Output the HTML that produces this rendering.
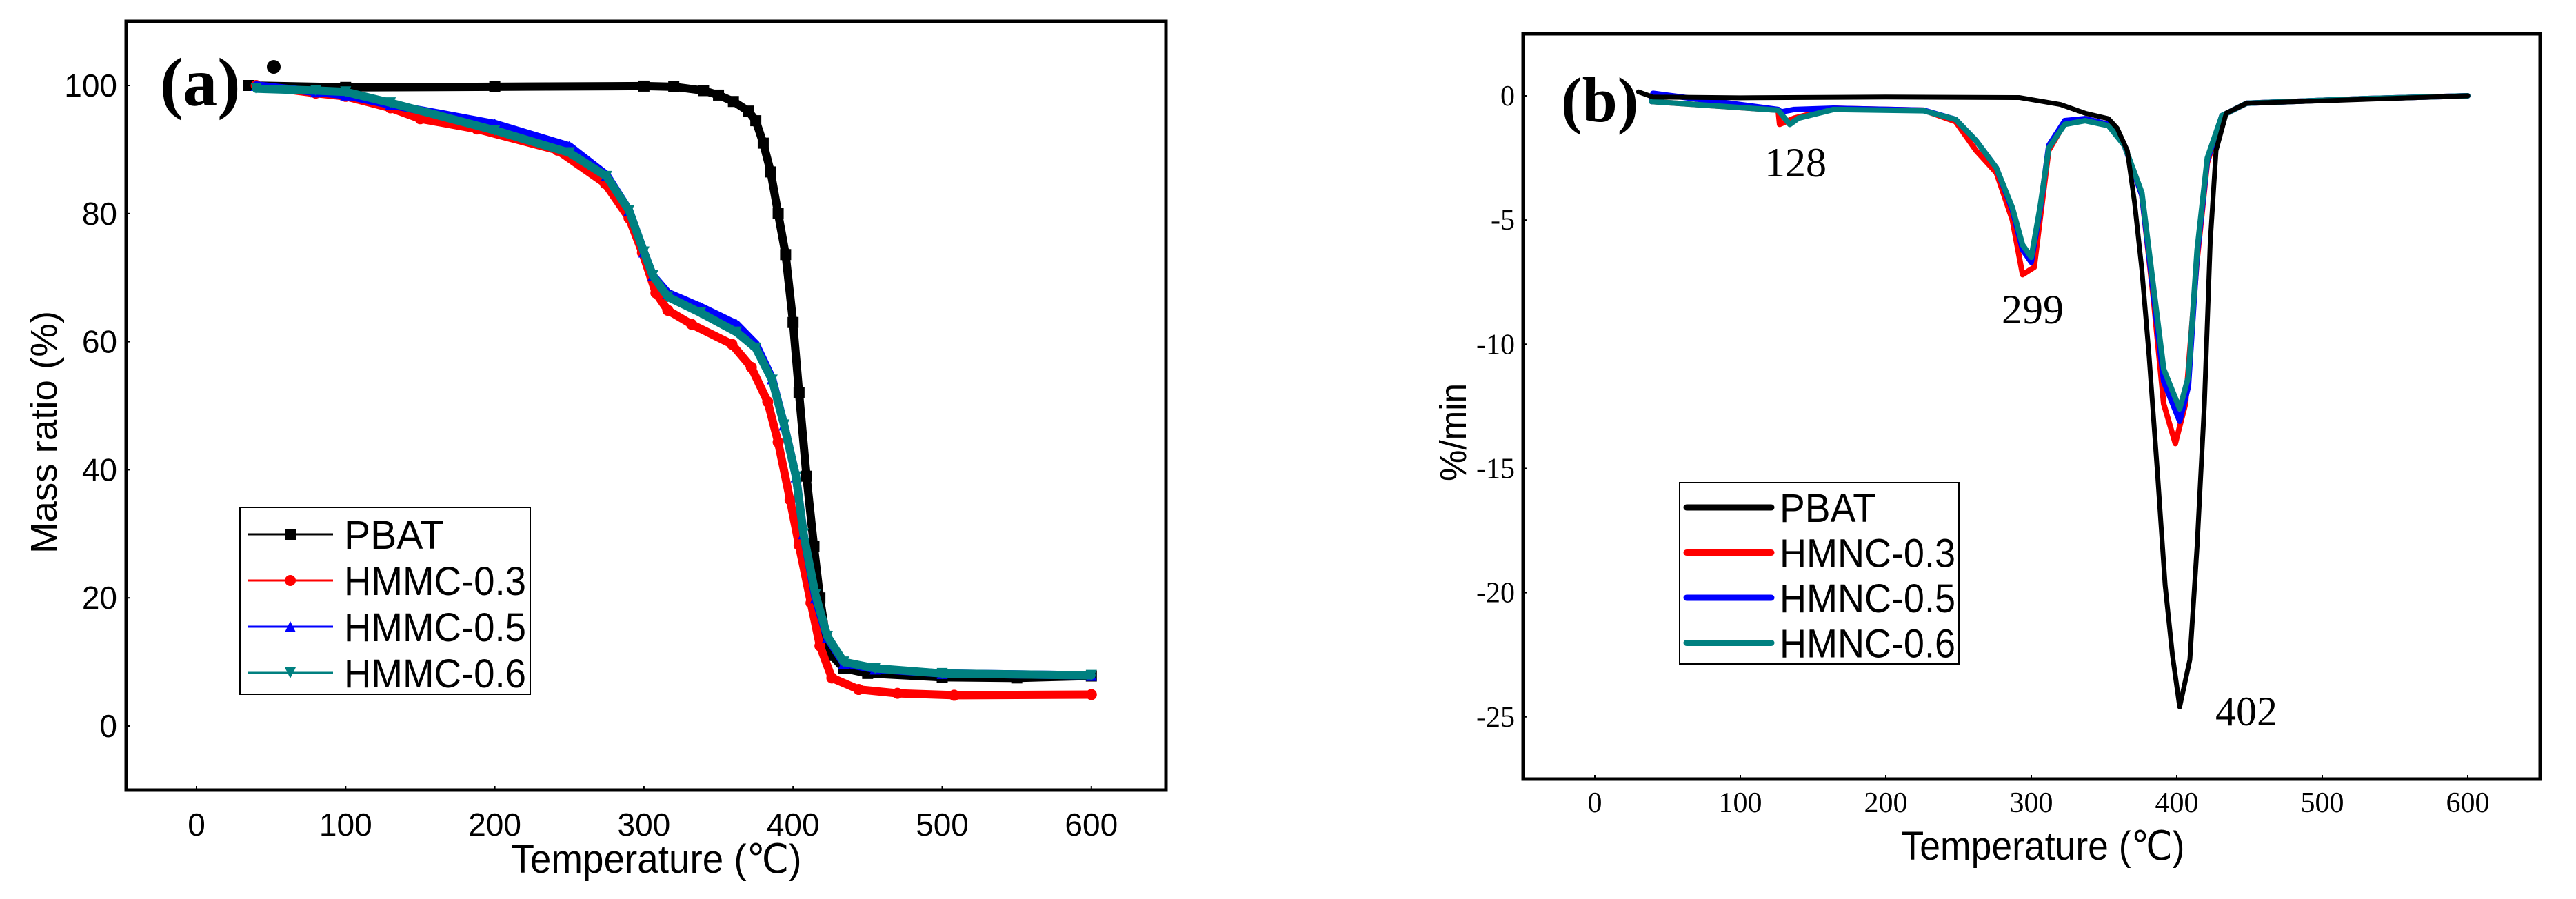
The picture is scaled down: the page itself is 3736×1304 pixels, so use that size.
<!DOCTYPE html>
<html><head><meta charset="utf-8"><style>
html,body{margin:0;padding:0;background:#fff;}
svg{display:block;}
</style></head><body>
<svg id="fig" width="3736" height="1304" viewBox="0 0 3736 1304" xmlns="http://www.w3.org/2000/svg">
<rect x="0" y="0" width="3736" height="1304" fill="#fff"/>
<g id="pa"></g>
<g id="pb"></g>
</svg>
<script>
// ---- Panel (a) data: TGA mass ratio ----
const aPBAT_T = [35,100,200,300,320,340,350,360,370,375,380,385,390,395,400,404,409,414,418,422,426,434,450,500,550,600];
const aPBAT_M = [100,99.7,99.8,99.9,99.8,99.2,98.5,97.5,96,94.5,91,86.5,80,73.6,63,52,39,28,20,14,11,9,8.2,7.6,7.5,7.8];
const aH03_T = [40,80,100,130,150,188,242,274,290,299,308,316,332,359,372,383,390,398,404,412,418,426,444,470,508,600];
const aH03_M = [100,98.8,98.3,96.5,94.8,93.2,89.9,84.7,79.3,73.9,67.6,64.9,62.7,59.6,56,50.6,44.3,35.3,28.2,19.2,12.5,7.5,5.7,5.1,4.8,4.9];
const aH05_T = [40,80,100,130,200,250,275,290,300,306,316,338,362,375,386,394,402,407,415,423,434,455,500,600];
const aH05_M = [100,99,98.5,97,94,90.5,86,80.5,74,70.3,67.6,65.4,62.7,59.6,54.2,47,38.9,30,20,13.8,9.8,8.9,8.2,7.9];
const aH06_T = [40,80,100,130,200,250,275,290,300,306,316,338,362,375,386,394,402,407,415,423,434,455,500,600];
const aH06_M = [99.5,99.2,99,97.3,93,89.5,85.8,80.5,74,70.3,67,64.5,61.5,59,54,47,38.9,30,20.5,14,10,9,8.2,7.9];
const aXTicks = [0,100,200,300,400,500,600];
const aYTicks = [0,20,40,60,80,100];
const aLegend = ["PBAT","HMMC-0.3","HMMC-0.5","HMMC-0.6"];

// ---- Panel (b) data: DTG ----
const bPBAT_T = [30,40,100,200,292,320,337,353,359,366,371,376,381,387,392,397,402,409,414,419,423,427,434,448,500,600];
const bPBAT_V = [0.16,-0.05,-0.08,-0.05,-0.07,-0.35,-0.7,-0.92,-1.3,-2.2,-4.3,-7,-10.5,-15.4,-19.7,-22.5,-24.6,-22.7,-18.1,-12.4,-5.9,-2.2,-0.7,-0.3,-0.2,0];
const bH03_T = [39,126,127,137,164,226,248,262,276,287,294,302,306,312,323,337,353,364,376,384,391,399,406,414,421,431,448,526,600];
const bH03_V = [-0.23,-0.58,-1.15,-0.9,-0.5,-0.58,-1.04,-2.2,-3.1,-5,-7.2,-6.9,-5,-2.2,-1.1,-0.92,-1.15,-2,-4,-8.2,-12.4,-14,-12.4,-6.6,-2.7,-0.8,-0.3,-0.12,0];
const bH05_T = [39,40,126,128,137,164,226,248,262,276,287,294,300,306,312,323,337,353,364,376,384,391,402,408,414,421,431,448,526,600];
const bH05_V = [-0.23,0.1,-0.55,-0.65,-0.55,-0.5,-0.58,-0.95,-1.8,-2.9,-4.6,-6.2,-6.7,-4.6,-2.0,-1.0,-0.92,-1.15,-2,-4,-8,-11.5,-13.1,-11.7,-6.4,-2.6,-0.8,-0.3,-0.12,0];
const bH06_T = [39,126,134,140,164,226,248,262,276,287,294,300,306,312,323,337,353,364,376,384,391,402,408,414,421,431,448,526,600];
const bH06_V = [-0.23,-0.58,-1.15,-0.9,-0.55,-0.6,-0.95,-1.8,-2.9,-4.5,-6.0,-6.5,-4.5,-2.1,-1.15,-1.0,-1.2,-2,-3.9,-7.7,-11,-12.6,-11.3,-6.2,-2.5,-0.8,-0.3,-0.12,0];
const bXTicks = [0,100,200,300,400,500,600];
const bYTicks = [0,-5,-10,-15,-20,-25];
const bLegend = ["PBAT","HMNC-0.3","HMNC-0.5","HMNC-0.6"];
const bPeakLabels = ["128","299","402"];

const NS = "http://www.w3.org/2000/svg";
function mk(parent, tag, attrs, text){
  const e = document.createElementNS(NS, tag);
  for (const k in attrs) e.setAttribute(k, attrs[k]);
  if (text !== undefined) e.textContent = text;
  parent.appendChild(e);
  return e;
}

// ===== Panel A =====
(function(){
  const g = document.getElementById('pa');
  const L=183,R=1691,T=31,B=1146;
  const xS = v => 285 + v*2.163;
  const yS = v => 1053 - v*9.29;
  const frame = mk(g,'rect',{x:L,y:T,width:R-L,height:B-T,fill:'none',stroke:'#000','stroke-width':5});
  
  
  aXTicks.forEach(v=>{
    const t = mk(g,'text',{x:xS(v),y:1212,'font-family':'Liberation Sans, sans-serif','font-size':46,'text-anchor':'middle'},String(v));
    
    
    mk(g,'line',{x1:xS(v),x2:xS(v),y1:B,y2:B-6,stroke:'#000','stroke-width':2});
  });
  aYTicks.forEach(v=>{
    const t = mk(g,'text',{x:170,y:yS(v)+16,'font-family':'Liberation Sans, sans-serif','font-size':46,'text-anchor':'end'},String(v));
    
    
    mk(g,'line',{x1:L,x2:L+6,y1:yS(v),y2:yS(v),stroke:'#000','stroke-width':2});
  });
  const xt = mk(g,'text',{x:952,y:1266,'font-family':'Liberation Sans, sans-serif','font-size':58,'text-anchor':'middle',textLength:421,lengthAdjust:'spacingAndGlyphs'},'Temperature (℃)');
  
  
  const yt = mk(g,'text',{x:0,y:0,'font-family':'Liberation Sans, sans-serif','font-size':54,'text-anchor':'middle',transform:'translate(82,627) rotate(-90)',textLength:352,lengthAdjust:'spacingAndGlyphs'},'Mass ratio (%)');
  
  
  const lab = mk(g,'text',{x:232,y:153,'font-family':'Liberation Serif, serif','font-size':100,'font-weight':'bold'},'(a)');
  
  
  mk(g,'circle',{cx:397,cy:97,r:10,fill:'#000'});

  const series = [
    {T:aPBAT_T,V:aPBAT_M,c:'#000',m:'sq',name:'series-pbat-a'},
    {T:aH03_T,V:aH03_M,c:'#ff0000',m:'ci',name:'series-hmmc-03-a'},
    {T:aH05_T,V:aH05_M,c:'#0000ff',m:'tu',name:'series-hmmc-05-a'},
    {T:aH06_T,V:aH06_M,c:'#008080',m:'td',name:'series-hmmc-06-a'}
  ];
  function marker(p,m,x,y,c,s){
    if(m==='sq') return mk(p,'rect',{x:x-s/2,y:y-s/2,width:s,height:s,fill:c});
    if(m==='ci') return mk(p,'circle',{cx:x,cy:y,r:s/2,fill:c});
    if(m==='tu') return mk(p,'polygon',{points:`${x},${y-s/2} ${x-s/2},${y+s/2} ${x+s/2},${y+s/2}`,fill:c});
    return mk(p,'polygon',{points:`${x},${y+s/2} ${x-s/2},${y-s/2} ${x+s/2},${y-s/2}`,fill:c});
  }
  series.forEach(s=>{
    const sg = mk(g,'g',{});
    
    
    const pts = s.T.map((t,i)=>xS(t)+','+yS(s.V[i])).join(' ');
    mk(sg,'polyline',{points:pts,fill:'none',stroke:s.c,'stroke-width':12,'stroke-linejoin':'round','stroke-linecap':'round'});
    s.T.forEach((t,i)=>marker(sg,s.m,xS(t),yS(s.V[i]),s.c,16));
  });
  // legend
  const lg = mk(g,'g',{});
  
  
  mk(lg,'rect',{x:348,y:736,width:421,height:271,fill:'#fff',stroke:'#000','stroke-width':2});
  aLegend.forEach((n,i)=>{
    const y = 775 + i*67;
    const s = series[i];
    const eg = mk(lg,'g',{});
    
    
    mk(eg,'line',{x1:359,x2:483,y1:y,y2:y,stroke:s.c,'stroke-width':3});
    marker(eg,s.m,421,y,s.c,16);
    mk(eg,'text',{x:499,y:y+21,'font-family':'Liberation Sans, sans-serif','font-size':58,textLength:n.length>4?264:145,lengthAdjust:'spacingAndGlyphs'},n);
  });
})();

// ===== Panel B =====
(function(){
  const g = document.getElementById('pb');
  const L=2209,R=3684,T=49,B=1130;
  const xS = v => 2313 + v*2.11;
  const yS = v => 139 - v*36.03;
  const frame = mk(g,'rect',{x:L,y:T,width:R-L,height:B-T,fill:'none',stroke:'#000','stroke-width':5});
  
  
  bXTicks.forEach(v=>{
    const t = mk(g,'text',{x:xS(v),y:1178,'font-family':'Liberation Serif, serif','font-size':42,'text-anchor':'middle'},String(v));
    
    
    mk(g,'line',{x1:xS(v),x2:xS(v),y1:B,y2:B-6,stroke:'#000','stroke-width':2});
  });
  bYTicks.forEach(v=>{
    const t = mk(g,'text',{x:2197,y:yS(v)+14,'font-family':'Liberation Serif, serif','font-size':42,'text-anchor':'end'},String(v));
    
    
    mk(g,'line',{x1:L,x2:L+6,y1:yS(v),y2:yS(v),stroke:'#000','stroke-width':2});
  });
  const xt = mk(g,'text',{x:2963,y:1247,'font-family':'Liberation Sans, sans-serif','font-size':58,'text-anchor':'middle',textLength:411,lengthAdjust:'spacingAndGlyphs'},'Temperature (℃)');
  
  
  const yt = mk(g,'text',{x:0,y:0,'font-family':'Liberation Sans, sans-serif','font-size':54,'text-anchor':'middle',transform:'translate(2126,627) rotate(-90)',textLength:142,lengthAdjust:'spacingAndGlyphs'},'%/min');
  
  
  const lab = mk(g,'text',{x:2264,y:176,'font-family':'Liberation Serif, serif','font-size':92,'font-weight':'bold'},'(b)');
  
  

  const series = [
    {T:bH03_T,V:bH03_V,c:'#ff0000',w:8,name:'series-hmnc-03-b'},
    {T:bH05_T,V:bH05_V,c:'#0000ff',w:8,name:'series-hmnc-05-b'},
    {T:bH06_T,V:bH06_V,c:'#008080',w:8,name:'series-hmnc-06-b'},
    {T:bPBAT_T,V:bPBAT_V,c:'#000',w:7,name:'series-pbat-b'}
  ];
  series.forEach(s=>{
    const pts = s.T.map((t,i)=>xS(t)+','+yS(s.V[i])).join(' ');
    const pl = mk(g,'polyline',{points:pts,fill:'none',stroke:s.c,'stroke-width':s.w,'stroke-linejoin':'round','stroke-linecap':'round'});
    
    
  });
  const pk = [[2604,256],[2948,469],[3258,1052]];
  bPeakLabels.forEach((s,i)=>{
    const t = mk(g,'text',{x:pk[i][0],y:pk[i][1],'font-family':'Liberation Serif, serif','font-size':60,'text-anchor':'middle'},s);
    
    
  });
  const lg = mk(g,'g',{});
  
  
  mk(lg,'rect',{x:2436,y:700,width:405,height:263,fill:'#fff',stroke:'#000','stroke-width':2});
  const lc = ['#000','#ff0000','#0000ff','#008080'];
  bLegend.forEach((n,i)=>{
    const y = 736 + i*65.5;
    const eg = mk(lg,'g',{});
    
    
    mk(eg,'line',{x1:2446,x2:2569,y1:y,y2:y,stroke:lc[i],'stroke-width':9,'stroke-linecap':'round'});
    mk(eg,'text',{x:2581,y:y+21,'font-family':'Liberation Sans, sans-serif','font-size':58,textLength:n.length>4?255:140,lengthAdjust:'spacingAndGlyphs'},n);
  });
})();
</script>
</body></html>
